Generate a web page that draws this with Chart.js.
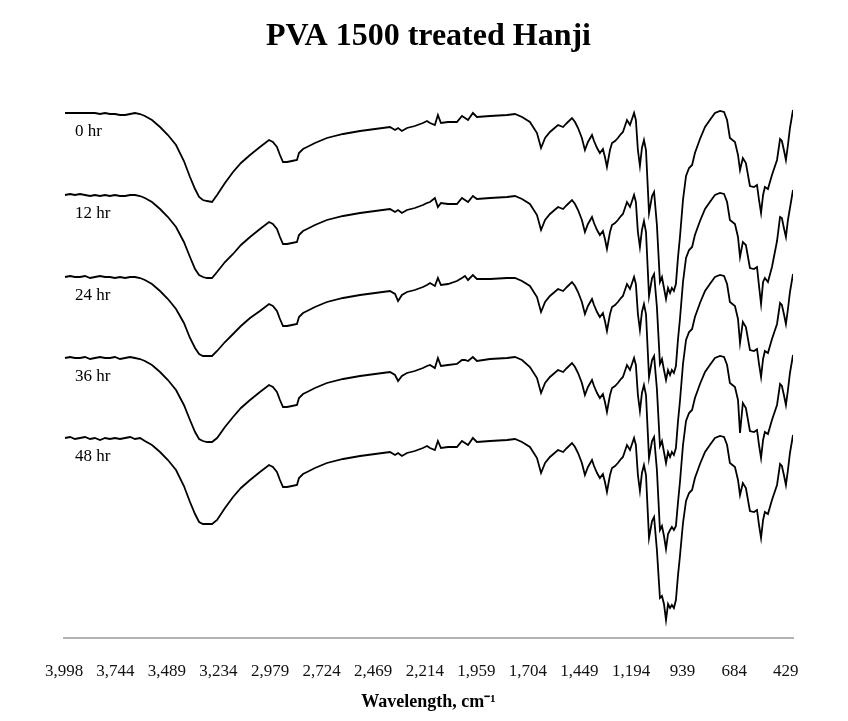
<!DOCTYPE html>
<html>
<head>
<meta charset="utf-8">
<script src="https://cdn.jsdelivr.net/npm/chart.js@4.4.1/dist/chart.umd.min.js"></script>
<style>
  html, body { margin: 0; padding: 0; background: #fff; }
  #chart { display: block; }
</style>
</head>
<body>
<canvas id="chart" width="848" height="721"></canvas>
<script>
/* ===== Data ===== */
const WAVENUMBERS = [
    3993,3968,3944,3919,3894,3869,3845,3820,3795,3771,3746,3721,3696,3671,3647,3622,3598,
    3563,3523,3484,3444,3405,3375,3350,3330,3311,3291,3266,3241,3202,3162,3123,3078,3029,2984,
    2965,2945,2930,2915,2895,2871,2846,2836,2816,2796,2757,2698,2618,2534,2460,
    2386,2361,2346,2327,2302,2263,2223,2203,2188,2164,2149,2134,2099,2055,2030,2015,2000,1976,1956,1891,1807,1768,1733,1694,1659,
    1639,1619,1595,1555,1530,1511,1486,1471,1456,1437,1422,1407,1387,1377,1362,1348,1333,1323,1313,1298,1288,1273,1259,1244,1234,
    1214,1199,1179,1170,1160,1150,1140,1130,1120,1105,1090,1080,1066,1051,1041,1031,1021,1011,1001,992,982,972,962,952,937,
    922,907,892,878,853,828,804,779,754,734,719,705,680,665,655,641,626,606,586,571,561,551,541,532,517,497,472,457,448,438,428,418,408,393
];

const HR_0 = [
    525,525,525,525,525,525,525,524,525,524,524,523,523,524,525,524,522,
    518,511,503,493,477,461,449,441,438,437,436,443,455,466,475,483,491,498,
    496,491,483,476,476,477,478,485,489,491,495,500,504,507,509,
    511,508,510,507,510,512,515,517,515,513,523,515,516,516,522,520,518,525,521,522,523,524,521,516,505,
    490,500,506,513,511,515,520,516,510,500,488,496,503,497,490,485,489,481,471,488,495,497,500,504,506,
    518,513,525,518,488,472,490,498,488,425,442,446,413,356,361,350,339,350,345,350,347,354,380,401,438,
    462,470,473,485,499,511,518,525,527,526,518,500,496,483,468,480,475,452,451,453,438,425,443,451,449,463,478,499,497,488,478,493,510,528
];

const HR_12 = [
    443,444,443,444,443,442,443,442,443,442,443,442,442,443,443,442,440,
    436,429,421,411,396,381,369,363,361,360,360,366,376,384,393,401,409,416,
    414,409,401,394,394,395,396,403,407,409,413,418,422,425,427,
    429,426,428,425,428,430,433,435,436,440,431,435,434,434,440,438,436,442,439,440,441,442,439,434,423,
    408,418,424,431,429,433,438,434,428,418,406,414,421,415,408,403,407,399,389,406,413,415,418,422,424,
    436,431,443,436,406,391,408,417,406,342,360,364,331,274,279,268,258,268,263,268,265,272,298,319,356,
    380,388,391,403,417,429,436,443,445,444,436,418,414,401,381,396,393,370,369,371,352,334,356,360,356,371,397,421,420,410,401,418,430,448
];

const HR_24 = [
    361,362,361,361,362,360,361,362,361,361,360,361,360,361,361,360,358,
    354,347,339,329,315,300,290,284,282,282,282,287,296,304,312,320,327,334,
    332,327,319,312,312,313,314,321,325,327,331,336,340,343,345,
    347,344,337,343,346,348,351,353,355,352,360,353,354,357,360,362,358,363,359,359,360,360,357,352,341,
    326,336,342,349,347,351,356,352,346,336,324,332,339,333,326,321,325,317,307,324,331,333,336,340,342,
    354,349,361,354,324,308,326,334,324,261,278,282,249,192,197,186,175,186,181,186,183,190,216,237,274,
    298,306,309,321,335,347,354,361,363,362,354,336,332,319,295,316,311,288,287,289,274,261,279,287,285,299,314,335,333,324,314,329,346,364
];

const HR_36 = [
    280,281,280,280,281,279,280,281,280,280,281,279,280,281,280,279,277,
    273,266,258,248,233,218,206,199,197,196,196,200,211,221,230,238,246,253,
    251,246,238,231,231,232,233,240,244,246,250,255,259,262,264,
    266,263,257,262,265,267,270,272,273,270,280,272,273,274,278,278,277,281,277,279,280,281,278,271,260,
    245,255,261,268,266,270,275,271,265,255,243,251,258,252,245,240,244,236,226,243,250,252,255,259,261,
    273,268,280,273,243,227,245,253,243,180,197,201,168,108,112,102,89,104,108,111,108,112,135,156,193,
    217,225,228,240,254,266,273,280,282,281,273,255,251,238,205,235,230,207,206,208,193,180,198,206,204,218,233,254,252,243,233,248,265,283
];

const HR_48 = [
    200,201,199,200,201,199,200,198,200,199,200,199,200,201,199,200,197,
    193,186,178,168,152,136,124,116,114,114,114,118,130,141,150,158,166,173,
    171,166,158,151,151,152,153,160,164,166,170,175,179,182,184,
    186,183,185,182,185,187,190,192,190,188,197,190,191,191,197,195,193,200,196,197,198,199,196,191,180,
    165,175,181,188,186,190,195,191,185,175,163,171,178,172,165,160,164,156,146,163,170,172,175,179,181,
    193,188,200,193,163,147,165,173,163,100,117,121,88,40,42,34,18,34,30,33,30,38,62,82,115,
    137,145,148,160,174,186,193,200,202,201,193,175,171,158,143,155,150,127,126,128,113,100,118,126,124,138,153,174,172,163,153,168,185,203
];

const SERIES_LABELS = ['0 hr', '12 hr', '24 hr', '36 hr', '48 hr'];
const SERIES_VALUES = [HR_0, HR_12, HR_24, HR_36, HR_48];
const TICK_LABELS = [3998, 3744, 3489, 3234, 2979, 2724, 2469, 2214, 1959, 1704, 1449, 1194, 939, 684, 429];

/* ===== Chart ===== */
const SERIF = "'Times New Roman', 'Liberation Serif', serif";
Chart.defaults.font.family = SERIF;
Chart.defaults.color = '#000';

// series names drawn just under the left end of each trace
const seriesNamePlugin = {
    id: 'seriesNames',
    afterDatasetsDraw(chart) {
        const { ctx, scales: { x, y } } = chart;
        ctx.save();
        ctx.font = '17px ' + SERIF;
        ctx.fillStyle = '#000';
        ctx.textAlign = 'left';
        ctx.textBaseline = 'middle';
        chart.data.datasets.forEach(ds => {
            ctx.fillText(ds.label, x.getPixelForValue(3944), y.getPixelForValue(ds.data[0].y - 19));
        });
        ctx.restore();
    }
};

new Chart(document.getElementById('chart'), {
    type: 'line',
    data: {
        datasets: SERIES_VALUES.map((vals, i) => ({
            label: SERIES_LABELS[i],
            data: WAVENUMBERS.map((w, j) => ({ x: w, y: vals[j] })),
            borderColor: '#000',
            borderWidth: 1.8,
            pointRadius: 0,
            tension: 0,
            fill: false
        }))
    },
    options: {
        responsive: false,
        animation: false,
        layout: { padding: { left: 64, right: 55, top: 0, bottom: 0 } },
        plugins: {
            legend: { display: false },
            tooltip: { enabled: false },
            title: {
                display: true,
                text: 'PVA 1500 treated Hanji',
                color: '#000',
                font: { size: 32, weight: 'bold', family: SERIF },
                padding: { top: 18, bottom: 41.6 }
            }
        },
        scales: {
            x: {
                type: 'linear',
                reverse: true,
                min: 393,
                max: 3998,
                afterBuildTicks: scale => { scale.ticks = TICK_LABELS.map(v => ({ value: v })); },
                ticks: {
                    autoSkip: false,
                    maxRotation: 0,
                    padding: 10,
                    color: '#111',
                    font: { size: 17 },
                    callback: v => Number(v).toLocaleString('en-US')
                },
                grid: { display: true, drawOnChartArea: false, drawTicks: true, tickLength: 13, tickColor: 'rgba(0,0,0,0)' },
                border: { display: true, color: '#b4b4b4', width: 2 },
                title: {
                    display: true,
                    text: 'Wavelength, cm\u207B\u00B9',
                    color: '#000',
                    font: { size: 18, weight: 'bold', family: SERIF },
                    padding: { top: 0, bottom: 8 }
                }
            },
            y: {
                display: false,
                min: 0,
                max: 540
            }
        }
    },
    plugins: [seriesNamePlugin]
});
</script>
</body>
</html>
